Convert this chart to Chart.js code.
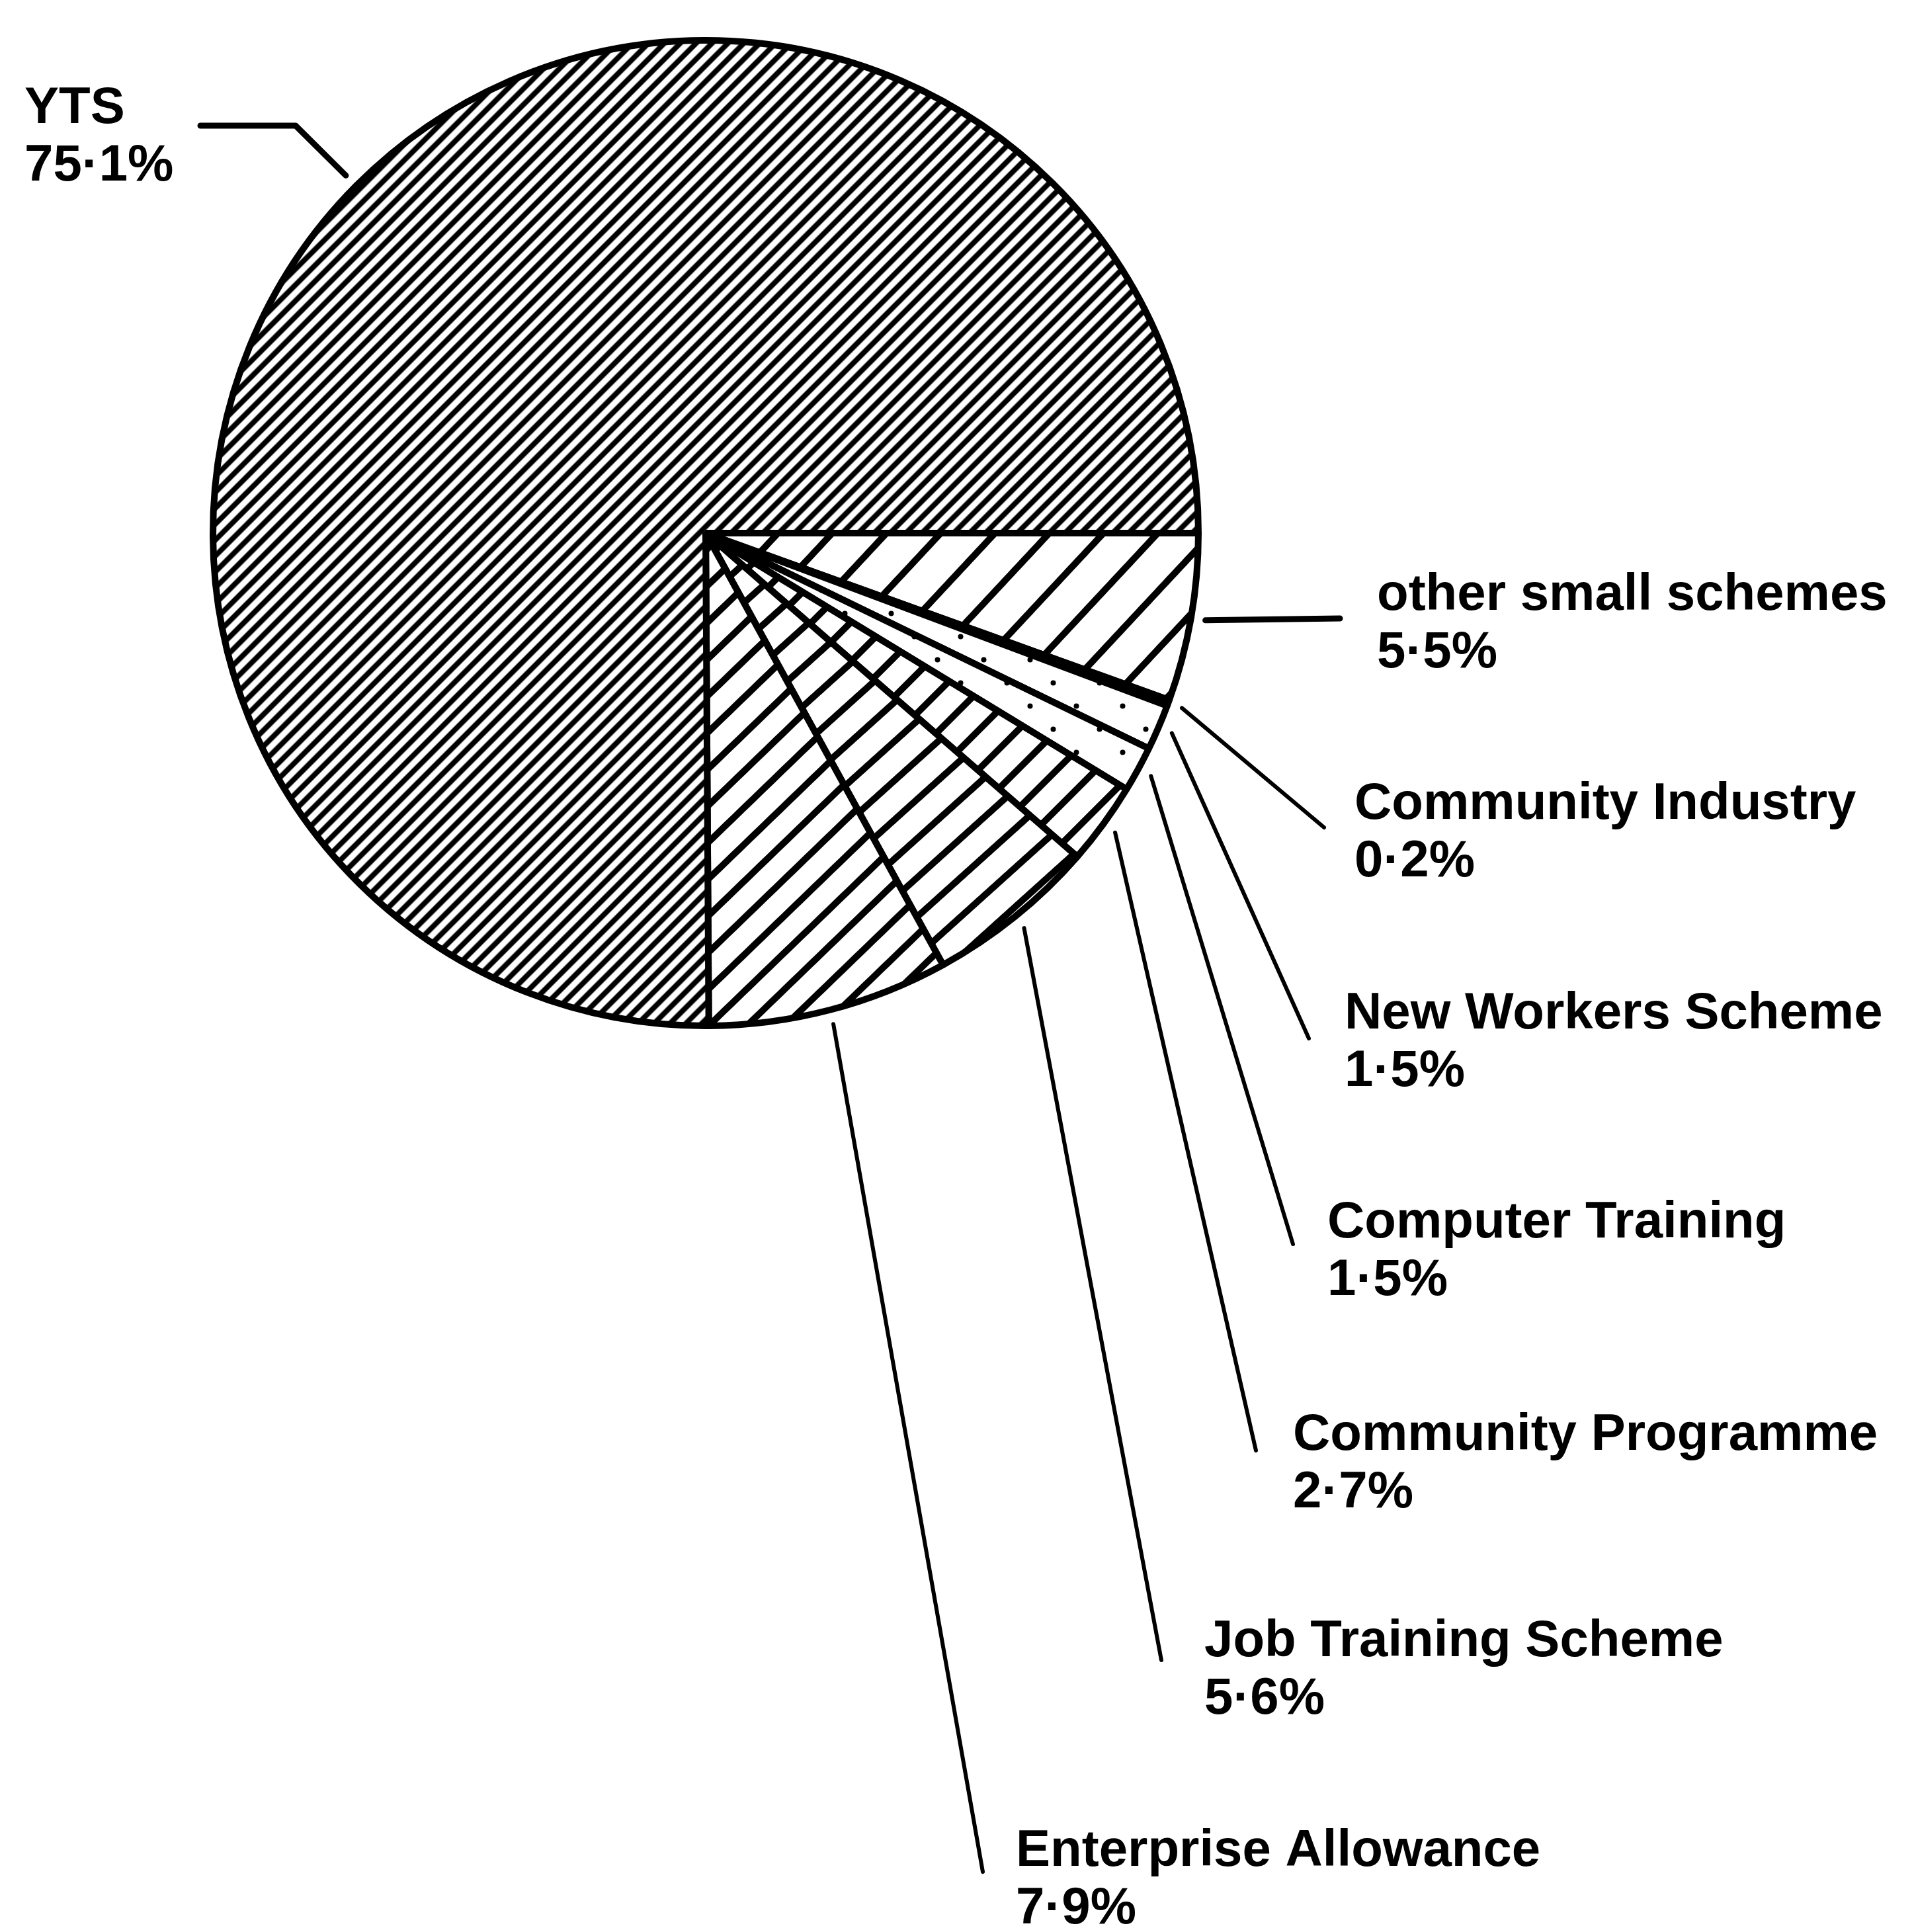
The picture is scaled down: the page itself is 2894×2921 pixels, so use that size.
<!DOCTYPE html>
<html>
<head>
<meta charset="utf-8">
<script src="https://cdn.jsdelivr.net/npm/chart.js@4.4.1/dist/chart.umd.min.js"></script>
<style>
html,body{margin:0;padding:0;background:#fff;}
</style>
</head>
<body>
<canvas id="pie" width="2894" height="2921"></canvas>
<script>
// shares of trainees by scheme, clockwise from 3 o'clock
const schemes = ['other small schemes', 'Community Industry', 'New Workers Scheme', 'Computer Training',
  'Community Programme', 'Job Training Scheme', 'Enterprise Allowance', 'YTS'];
const shares = [5.5, 0.2, 1.5, 1.5, 2.7, 5.6, 7.9, 75.1];

// where each callout ends and where its text goes
const leaderPaths = [
  [[2026, 935]],
  [[2002, 1251]],
  [[1979, 1570]],
  [[1955, 1881]],
  [[1899, 2193]],
  [[1756, 2510]],
  [[1486, 2830]],
  [[447, 190], [303, 190]]
];
const leaderWidths = [9, 6, 6, 6, 6, 6, 6, 9];
const textAt = [[2082, 922], [2048, 1238], [2033, 1555], [2007, 1871], [1955, 2192], [1821, 2504], [1536, 2821], [37, 186]];

function pctText(v) {
  return v.toFixed(1).replace('.', '·') + '%';
}

function hatch(gap, lw, angle) {
  const c = document.createElement('canvas');
  c.width = 8; c.height = gap;
  const x = c.getContext('2d');
  x.fillStyle = '#fff'; x.fillRect(0, 0, 8, gap);
  x.fillStyle = '#000'; x.fillRect(0, (gap - lw) / 2, 8, lw);
  const p = x.createPattern(c, 'repeat');
  p.setTransform(new DOMMatrix().rotateSelf(-angle));
  return p;
}

function dots(w, h, r) {
  const c = document.createElement('canvas');
  c.width = w; c.height = h;
  const x = c.getContext('2d');
  x.fillStyle = '#fff'; x.fillRect(0, 0, w, h);
  x.fillStyle = '#000';
  x.beginPath(); x.arc(w / 4, h / 4, r, 0, Math.PI * 2); x.fill();
  x.beginPath(); x.arc(w * 3 / 4, h * 3 / 4, r, 0, Math.PI * 2); x.fill();
  return x.createPattern(c, 'repeat');
}

const fills = [
  hatch(60, 10, 47),
  '#fff',
  dots(70, 70, 4),
  dots(70, 70, 4),
  hatch(42, 10, 45),
  hatch(44, 10, 42),
  hatch(40, 10, 44),
  hatch(17, 8, 45)
];

const callouts = {
  id: 'callouts',
  afterDatasetsDraw(chart) {
    const ctx = chart.ctx;
    const arcs = chart.getDatasetMeta(0).data;
    ctx.save();
    ctx.strokeStyle = '#000';
    ctx.fillStyle = '#000';
    ctx.lineCap = 'round';
    ctx.lineJoin = 'round';
    ctx.font = 'bold 78px "Liberation Sans", Arial, sans-serif';
    ctx.textBaseline = 'alphabetic';
    arcs.forEach((arc, i) => {
      const p = arc.getProps(['x', 'y', 'startAngle', 'endAngle', 'outerRadius']);
      const mid = (p.startAngle + p.endAngle) / 2;
      const r = p.outerRadius + 22;
      ctx.lineWidth = leaderWidths[i];
      ctx.beginPath();
      ctx.moveTo(p.x + Math.cos(mid) * r, p.y + Math.sin(mid) * r);
      leaderPaths[i].forEach(([lx, ly]) => ctx.lineTo(lx, ly));
      ctx.stroke();
      const [tx, ty] = textAt[i];
      ctx.fillText(schemes[i], tx, ty);
      ctx.fillText(pctText(shares[i]), tx, ty + 87);
    });
    ctx.restore();
  }
};

new Chart(document.getElementById('pie'), {
  type: 'pie',
  data: {
    labels: schemes,
    datasets: [{
      data: shares,
      backgroundColor: fills,
      borderColor: '#000',
      borderWidth: 10
    }]
  },
  options: {
    responsive: false,
    animation: false,
    rotation: 90,
    radius: 745,
    layout: { padding: { left: 0, top: 0, right: 760, bottom: 1309 } },
    plugins: {
      legend: { display: false },
      tooltip: { enabled: false }
    }
  },
  plugins: [callouts]
});
</script>
</body>
</html>
